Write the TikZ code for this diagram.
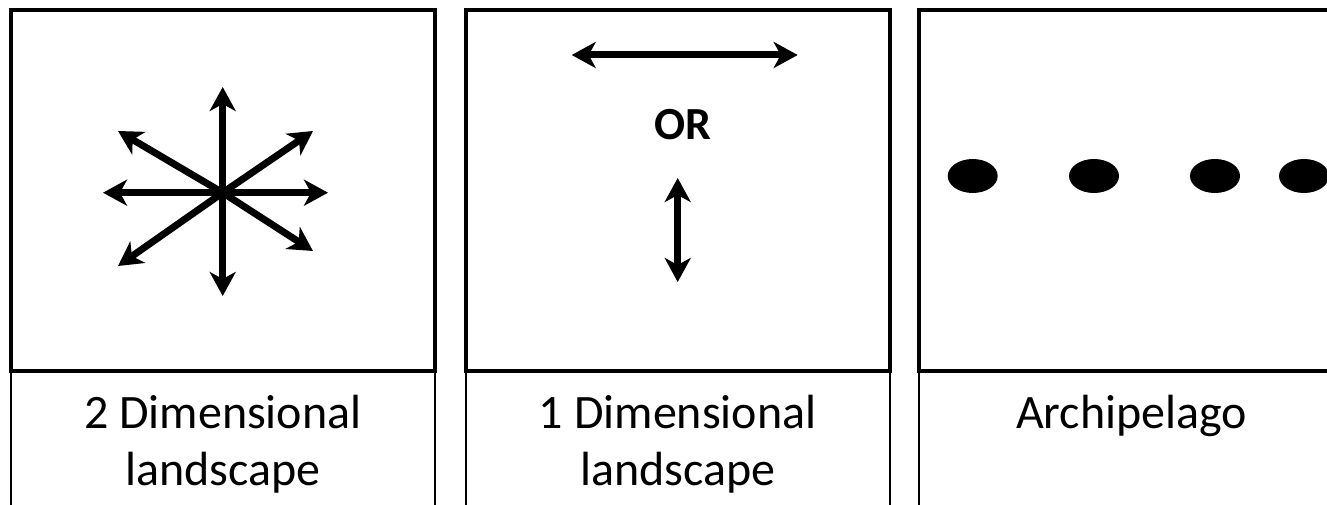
\documentclass[tikz,border=0pt]{standalone}
\usepackage{fontspec}
\setmainfont{Carlito}
\usetikzlibrary{arrows.meta,shapes.geometric}

\tikzset{
  frame/.style={line width=4pt, line join=miter},
  side/.style={line width=2pt},
  ray/.style={line width=7pt, arrows={-Stealth[length=24pt,width=26pt,inset=7pt]}},
  twoway/.style={line width=7pt, arrows={Stealth[length=24pt,width=26pt,inset=7pt]-Stealth[length=24pt,width=26pt,inset=7pt]}},
  caption/.style={anchor=base, inner sep=0pt, font=\fontsize{48}{57}\selectfont},
  island/.style={ellipse, fill=black, draw=none, minimum width=50pt, minimum height=34pt, inner sep=0pt},
  ortext/.style={anchor=base, inner sep=0pt, font=\fontsize{46}{54}\selectfont\bfseries}
}

\begin{document}
\begin{tikzpicture}[x=1pt, y=-1pt]
  \useasboundingbox (0,0) rectangle (1327,505);
  \clip (0,0) rectangle (1327,505);
  \fill[white] (0,0) rectangle (1327,505);

  % three panels: picture box on top, open caption box below
  \foreach \x in {10.7, 466, 919.3} {
    \draw[frame] (\x,10) rectangle ++(424.3,360.7);
    \draw[side] (\x,370.7) -- (\x,510);
    \draw[side] (\x+424.3,370.7) -- (\x+424.3,510);
  }

  % panel 1: eight directions from one point
  \coordinate (c) at (222.7,192.7);
  \coordinate (n)  at (222.7,87);
  \coordinate (s)  at (222.7,296);
  \coordinate (w)  at (103,192.7);
  \coordinate (e)  at (328,192.7);
  \coordinate (nw) at (118,131);
  \coordinate (ne) at (313,131);
  \coordinate (sw) at (118,266);
  \coordinate (se) at (313,251);
  \draw[ray] (c) -- (n);
  \draw[ray] (c) -- (s);
  \draw[ray] (c) -- (w);
  \draw[ray] (c) -- (e);
  \draw[ray] (c) -- (nw);
  \draw[ray] (c) -- (ne);
  \draw[ray] (c) -- (sw);
  \draw[ray] (c) -- (se);

  % panel 2: one axis or the other
  \coordinate (hl) at (571.7,55);
  \coordinate (hr) at (797.7,55);
  \draw[twoway] (hl) -- (hr);
  \node[ortext] (or) at (682.5,140) {OR};
  \coordinate (vt) at (677.7,178);
  \coordinate (vb) at (677.7,282);
  \draw[twoway] (vt) -- (vb);

  % panel 3: separate patches
  \node[island] (isl1) at (972.7,176) {};
  \node[island] (isl2) at (1094,176) {};
  \node[island] (isl3) at (1215,176) {};
  \node[island] (isl4) at (1304,176) {};

  % captions
  \node[caption] (cap1a) at (222.8,428) {2 Dimensional};
  \node[caption] (cap1b) at (222.8,485) {landscape};
  \node[caption] (cap2a) at (677.7,428) {1 Dimensional};
  \node[caption] (cap2b) at (677.7,485) {landscape};
  \node[caption] (cap3)  at (1131.5,428) {Archipelago};
\end{tikzpicture}
\end{document}
